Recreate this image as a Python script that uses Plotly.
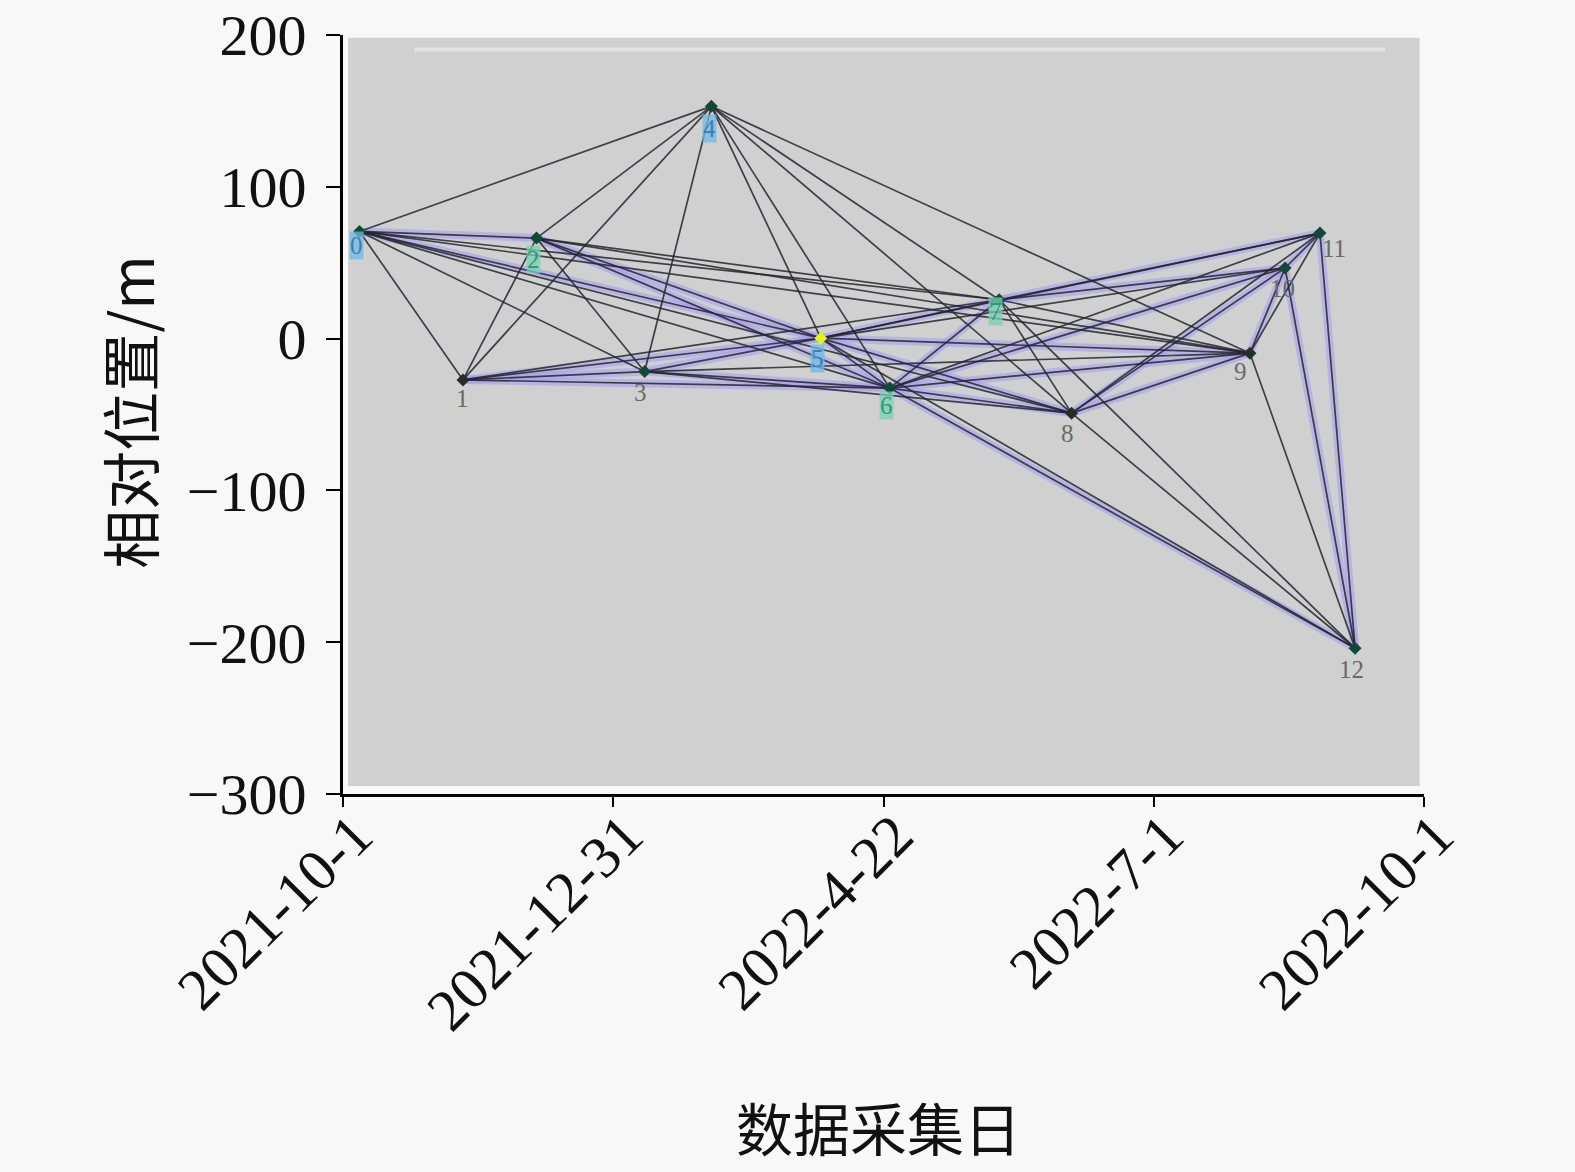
import plotly.graph_objects as go

# ---------------- data ----------------
x_tick_pos = [0, 1, 2, 3, 4]
x_tick_labels = ["2021-10-1", "2021-12-31", "2022-4-22", "2022-7-1", "2022-10-1"]
y_tick_vals = [-300, -200, -100, 0, 100, 200]

node_labels = ["0", "1", "2", "3", "4", "5", "6", "7", "8", "9", "10", "11", "12"]
node_x = [0.061, 0.444, 0.716, 1.116, 1.363, 1.768, 2.023, 2.428, 2.696, 3.356, 3.486, 3.615, 3.745]
node_y = [70.6, -27.2, 66.2, -21.7, 153.0, 0.3, -32.6, 25.6, -49.1, -9.6, 46.5, 69.5, -204.0]

edges = [
    (0, 1), (0, 2), (0, 3), (0, 4), (0, 5), (0, 6), (0, 7), (0, 8), (0, 9),
    (1, 2), (1, 3), (1, 4), (1, 5), (1, 6), (1, 7),
    (2, 3), (2, 4), (2, 5), (2, 6), (2, 7), (2, 9),
    (3, 4), (3, 5), (3, 6), (3, 8), (3, 9),
    (4, 5), (4, 6), (4, 7), (4, 8), (4, 9),
    (5, 6), (5, 7), (5, 8), (5, 9), (5, 10), (5, 11), (5, 12),
    (6, 7), (6, 8), (6, 9), (6, 10), (6, 11), (6, 12),
    (7, 8), (7, 9), (7, 10), (7, 11), (7, 12),
    (8, 9), (8, 10), (8, 11), (8, 12),
    (9, 10), (9, 11), (9, 12),
    (10, 11), (10, 12),
    (11, 12),
]
highlight_edges = [
    (0, 2), (0, 5), (1, 3), (1, 5), (1, 6), (2, 5), (2, 6), (3, 5), (3, 6),
    (5, 6), (5, 7), (6, 7), (6, 8), (5, 8), (7, 10), (7, 11), (6, 10),
    (8, 10), (8, 9), (5, 9), (6, 9), (9, 10), (10, 11), (10, 12), (11, 12), (6, 12),
]

marker_colors = ["#0f4a34", "#2a2a2a", "#0f4a34", "#0f4a34", "#0f4a34", "#e6f01e", "#0f4a34",
                 "#0f4a34", "#2a2a2a", "#23302a", "#0f4a34", "#0f4a34", "#0f4a34"]
label_box = ["rgba(110,185,230,0.75)", None, "rgba(120,210,180,0.75)", None, "rgba(110,185,230,0.75)",
             "rgba(110,185,230,0.75)", "rgba(120,210,180,0.75)", "rgba(120,210,180,0.75)", None, None,
             None, None, None]
label_color = ["#3a7fb8", "#6a6a6a", "#2d9a7a", "#6a6a6a", "#3a7fb8", "#3a7fb8", "#2d9a7a",
               "#2d9a7a", "#6a6a6a", "#6a6a6a", "#6a6a6a", "#6a6a6a", "#6a6a6a"]
label_dx = [-3, 0, -3, -4, -2, -3, -3, -4, -4, -9, -3, 14, -4]
label_dy = [-14, -19, -21, -21, -22, -20, -17, -12, -20, -18, -20, -15, -21]


def segments(pairs):
    xs, ys = [], []
    for a, b in pairs:
        xs += [node_x[a], node_x[b], None]
        ys += [node_y[a], node_y[b], None]
    return xs, ys


fig = go.Figure()

hx, hy = segments(highlight_edges)
fig.add_trace(go.Scatter(x=hx, y=hy, mode="lines",
                         line=dict(color="rgba(165,155,242,0.55)", width=8),
                         hoverinfo="skip", showlegend=False))
ex, ey = segments(edges)
fig.add_trace(go.Scatter(x=ex, y=ey, mode="lines",
                         line=dict(color="rgba(38,38,45,0.85)", width=1.7),
                         hoverinfo="skip", showlegend=False))
fig.add_trace(go.Scatter(x=node_x, y=node_y, mode="markers",
                         marker=dict(symbol="diamond", size=10, color=marker_colors,
                                     line=dict(width=0)),
                         hoverinfo="skip", showlegend=False))

for i, lab in enumerate(node_labels):
    fig.add_annotation(x=node_x[i], y=node_y[i], text=lab, showarrow=False,
                       xshift=label_dx[i], yshift=label_dy[i],
                       font=dict(family="Liberation Serif", size=25, color=label_color[i]),
                       bgcolor=label_box[i] if label_box[i] else "rgba(0,0,0,0)",
                       borderpad=0)

# axis titles
fig.add_annotation(xref="paper", yref="paper", x=0.4955, y=-0.437, text="数据采集日",
                   showarrow=False, font=dict(family="Noto Sans CJK SC", size=57, color="#111"),
                   xanchor="center", yanchor="middle")
fig.add_annotation(xref="paper", yref="paper", x=-0.198, y=0.5035, text="相对位置/m",
                   textangle=-90, showarrow=False,
                   font=dict(family="Noto Sans CJK SC", size=59, color="#111"),
                   xanchor="center", yanchor="middle")

# plot-area grey panel
fig.add_shape(type="rect", xref="x domain", yref="y domain", x0=0.0047, x1=0.996, y0=0.0105, y1=0.9965,
              fillcolor="#d0d0d0", line=dict(width=0), layer="below")
fig.add_shape(type="line", xref="x domain", yref="y domain", x0=0.066, x1=0.964, y0=0.9806, y1=0.9806,
              line=dict(color="#e2e2e2", width=4), layer="below")

bg = "#f8f8f8"
fig.update_layout(
    width=1575, height=1172,
    margin=dict(l=343, r=151, t=35, b=378, autoexpand=False),
    paper_bgcolor=bg, plot_bgcolor=bg,
    showlegend=False,
)
fig.update_xaxes(range=[0, 4], tickvals=x_tick_pos, ticktext=x_tick_labels, tickangle=-45,
                 automargin=False,
                 showgrid=False, zeroline=False, showline=True, linecolor="#000", linewidth=3,
                 ticks="outside", ticklen=10, tickwidth=2, tickcolor="#000",
                 ticklabelstandoff=-30, ticklabelshift=12,
                 tickfont=dict(family="Liberation Serif", size=59, color="#111"))
fig.update_yaxes(range=[-300, 200], tickvals=y_tick_vals,
                 automargin=False,
                 showgrid=False, zeroline=False, showline=True, linecolor="#000", linewidth=3,
                 ticks="outside", ticklen=14, tickwidth=2, tickcolor="#000",
                 ticklabelstandoff=8,
                 tickfont=dict(family="Liberation Serif", size=58, color="#111"))

fig.write_html(
    "out.html",
    config={"displayModeBar": False},
    post_script="document.body.style.margin='0px';document.body.style.background='#f8f8f8';"
                "document.body.style.overflow='hidden';",
)
